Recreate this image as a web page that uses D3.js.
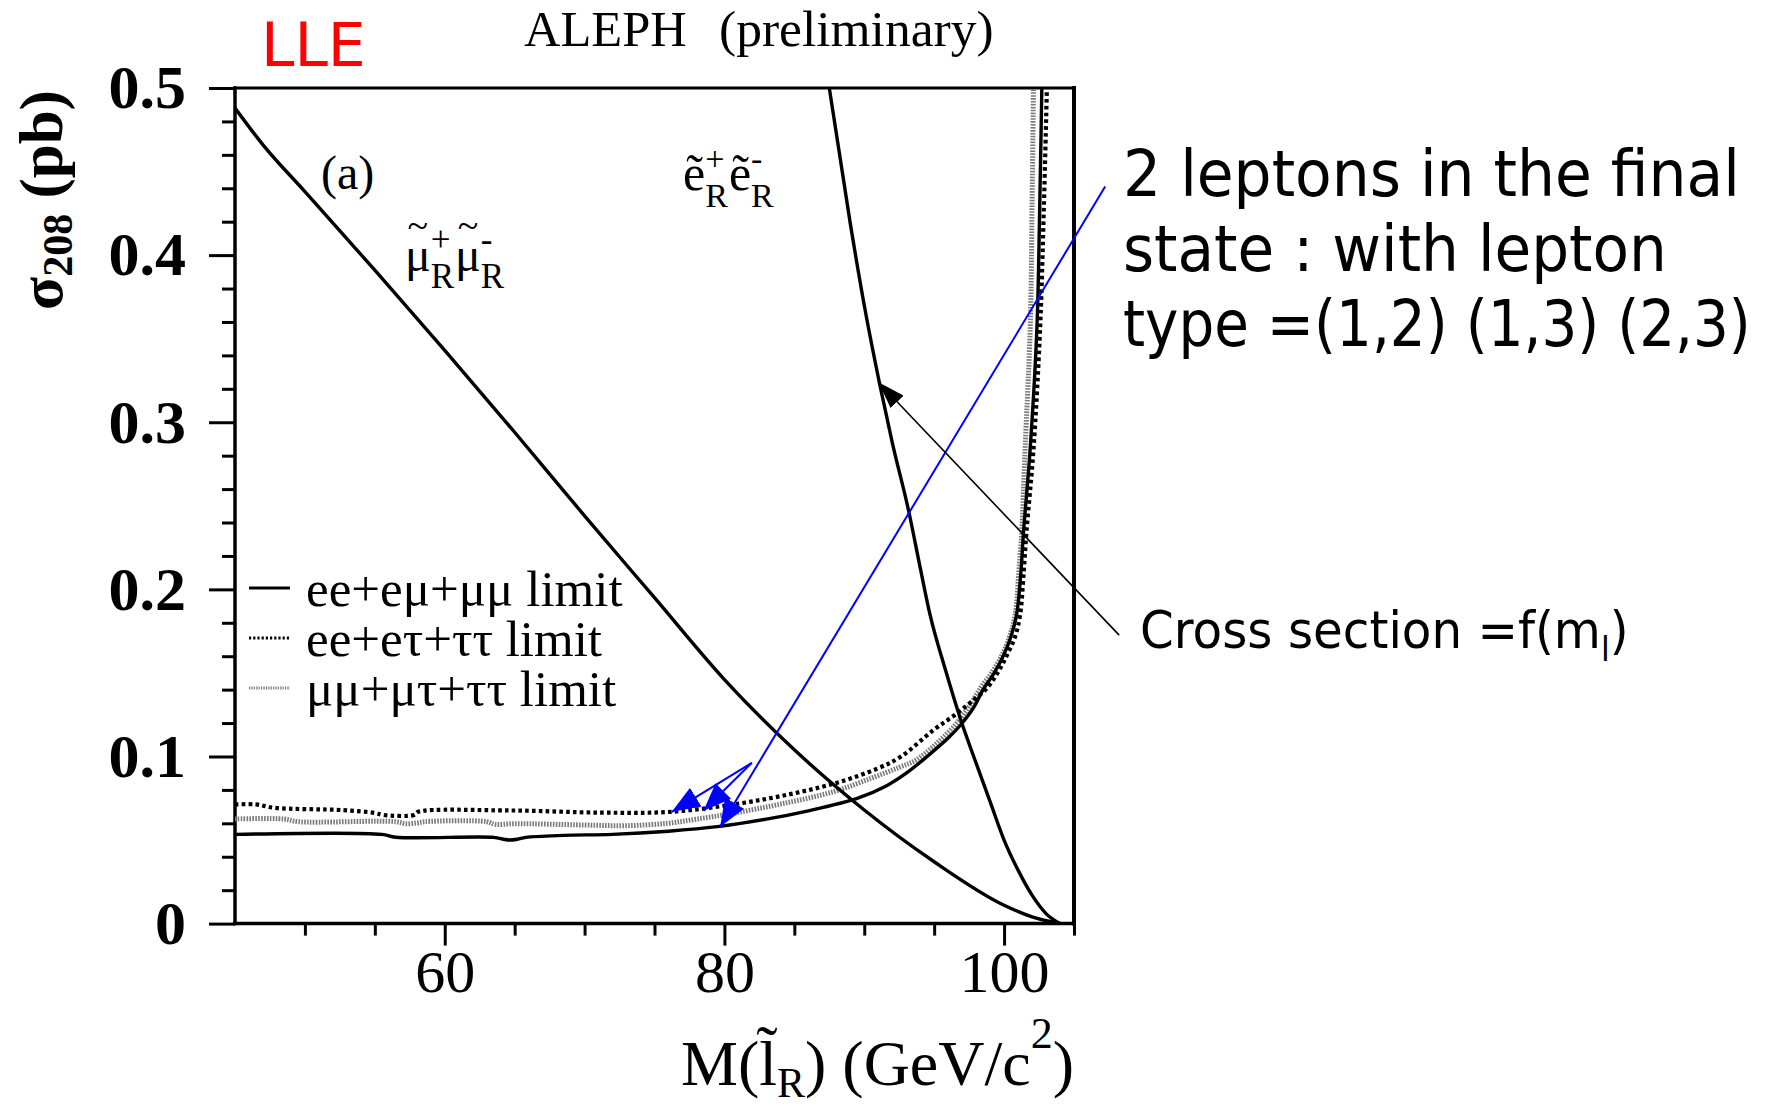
<!DOCTYPE html>
<html>
<head>
<meta charset="utf-8">
<script src="https://cdn.jsdelivr.net/npm/d3@7"></script>
<style>
  html, body { margin: 0; padding: 0; background: #fff; }
  svg { display: block; }
  .serif { font-family: "Liberation Serif", "Times New Roman", serif; }
  .sans { font-family: "DejaVu Sans", "Liberation Sans", sans-serif; }
</style>
</head>
<body>
<svg id="chart" width="1766" height="1106"></svg>
<script>
// ---------- data ----------
// smuon pair production cross section (pb) vs mass (GeV/c^2)
const muMass = [45, 47, 50, 55, 60, 65, 70, 75, 80, 85, 90, 95, 100, 102, 104];
const muXsec = [0.488, 0.466, 0.438, 0.391, 0.343, 0.294, 0.244, 0.195, 0.146, 0.104, 0.068, 0.037, 0.011, 0.004, 0.0];

// selectron pair production cross section (pb) vs mass
const eMass = [87.5, 89, 90, 91.1, 92, 93.2, 94, 94.7, 95.8, 96.9, 98, 99, 100, 101, 102, 103, 104];
const eXsec = [0.500, 0.419, 0.370, 0.323, 0.288, 0.246, 0.213, 0.185, 0.152, 0.122, 0.096, 0.073, 0.050, 0.032, 0.017, 0.006, 0.0];

// 95% CL upper limits, ee+eμ+μμ (solid)
const limEMuMass = [45, 55.5, 56.5, 63.5, 64.2, 64.6, 65.2, 65.8, 68.5, 72, 76, 79.5, 83, 86, 89.5, 91.5, 93, 94.5, 96, 96.9,
                    97.8, 98.5, 99.3, 99.96, 100.5, 100.9, 101.2, 101.39, 101.86, 102.35, 102.55, 102.7];
const limEMuVal  = [.0534, .0534, .0517, .0516, .0505, .0500, .0505, .0516, .0528, .0534, .0553, .0580, .0625, .0675, .0749, .0820, .0900, .1000, .1110, .1190,
                    .1290, .1400, .1500, .1605, .1720, .1851, .2100, .2343, .2834, .3571, .4300, .5000];

// ee+eτ+ττ (dotted)
const limETauMass = [45, 46.5, 47.8, 52.7, 55, 55.6, 57.8, 58.1, 64.6, 71.2, 76.2, 81.1, 85, 88.3, 91, 92.6, 94.95, 96.5, 97.7, 98.77,
                     99.6, 100.2, 100.8, 101.15, 101.4, 101.6, 102.1, 102.58, 102.85, 103.06];
const limETauVal  = [.0713, .0713, .0693, .0679, .0662, .0650, .0650, .0669, .0677, .0664, .0669, .0719, .0780, .0849, .0930, .0998, .1158, .1250, .1330, .1408,
                     .1510, .1605, .1720, .1851, .2100, .2343, .2834, .3571, .4300, .5000];

// μμ+μτ+ττ (grey)
const limMuTauMass = [45, 48.5, 49.5, 56.5, 57.2, 58, 58.6, 63, 63.6, 65, 70, 73, 75.9, 78, 80.6, 84, 87.8, 90.5, 92.5, 93.7,
                      95.2, 96.6, 97.5, 98.3, 99.1, 99.84, 100.4, 100.8, 101.05, 101.26, 101.5, 101.87, 102.0, 102.1];
const limMuTauVal  = [.0626, .0626, .0610, .0610, .0598, .0602, .0610, .0610, .0594, .0598, .0590, .0586, .0600, .0625, .0660, .0715, .0789, .0870, .0935, .0978,
                      .1080, .1198, .1300, .1408, .1500, .1605, .1720, .1851, .2100, .2343, .2834, .3571, .4300, .5000];

// axes
const xMajor = [60, 80, 100];
const xTickLabels = ["60", "80", "100"];
const xMinor = [50, 55, 65, 70, 75, 85, 90, 95, 105];
const yMajor = [0, 0.1, 0.2, 0.3, 0.4, 0.5];
const yTickLabels = ["0", "0.1", "0.2", "0.3", "0.4", "0.5"];
const yMinor = d3.range(0, 0.501, 0.02).filter(v => Math.abs(v * 10 - Math.round(v * 10)) > 1e-6);

// legend
const legendLabels = ["ee+eμ+μμ limit", "ee+eτ+ττ limit", "μμ+μτ+ττ limit"];

// annotation arrows, in (mass, cross section) coordinates
const blueArrows = [
  { from: [107.23, 0.441], to: [79.69, 0.0578] },
  { from: [81.96, 0.0962], to: [76.24, 0.0669] },
  { from: [81.96, 0.0962], to: [78.5, 0.0675] }
];
const blackArrow = { from: [108.23, 0.1726], to: [91.02, 0.3239] };

const noteLines = ["2 leptons in the final", "state : with lepton", "type =(1,2) (1,3) (2,3)"];
const noteWidths = [617, 544, 628];

// ---------- layout ----------
const svg = d3.select("#chart");
const L = 235, R = 1074, T = 88, B = 923.6;
const x = d3.scaleLinear().domain([45, 105]).range([L, R]);
const y = d3.scaleLinear().domain([0, 0.5]).range([B, T]);

const defs = svg.append("defs");
defs.append("clipPath").attr("id", "plotClip")
  .append("rect").attr("x", L).attr("y", T - 1).attr("width", R - L).attr("height", B - T + 1);

function arrowMarker(id, color, len, half) {
  defs.append("marker")
    .attr("id", id)
    .attr("markerUnits", "userSpaceOnUse")
    .attr("viewBox", `0 ${-half} ${len} ${2 * half}`)
    .attr("refX", len).attr("refY", 0)
    .attr("markerWidth", len).attr("markerHeight", 2 * half)
    .attr("orient", "auto")
    .append("path")
    .attr("d", `M0,${-half}L${len},0L0,${half}Z`)
    .attr("fill", color);
}
arrowMarker("arrowBlue", "#0000ff", 28, 11);
arrowMarker("arrowBlack", "#000", 27, 9);

// ---------- axes ----------
const yMinorAxis = d3.axisLeft(y).tickValues(yMinor).tickSize(13).tickFormat("");
const yMajorAxis = d3.axisLeft(y).tickValues(yMajor).tickSize(26).tickPadding(23)
  .tickFormat((d, i) => yTickLabels[i]);
const xMinorAxis = d3.axisBottom(x).tickValues(xMinor).tickSize(12).tickFormat("");
const xMajorAxis = d3.axisBottom(x).tickValues(xMajor).tickSize(22).tickPadding(4)
  .tickFormat((d, i) => xTickLabels[i]);

function styleAxis(g) {
  g.select(".domain").remove();
  g.selectAll(".tick line").attr("stroke", "#000").attr("stroke-width", 3);
}
svg.append("g").attr("transform", `translate(${L},0)`).call(yMinorAxis).call(styleAxis);
const gy = svg.append("g").attr("transform", `translate(${L},0)`).call(yMajorAxis).call(styleAxis);
gy.selectAll(".tick text").attr("class", "serif").attr("font-size", 62).attr("font-weight", "bold").attr("fill", "#000");
svg.append("g").attr("transform", `translate(0,${B})`).call(xMinorAxis).call(styleAxis);
const gx = svg.append("g").attr("transform", `translate(0,${B})`).call(xMajorAxis).call(styleAxis);
gx.selectAll(".tick text").attr("class", "serif").attr("font-size", 60).attr("fill", "#000");

// frame
const frame = svg.append("g").attr("stroke", "#000").attr("stroke-linecap", "square");
frame.append("line").attr("x1", L).attr("x2", R).attr("y1", T).attr("y2", T).attr("stroke-width", 3);
frame.append("line").attr("x1", R).attr("x2", R).attr("y1", T).attr("y2", B).attr("stroke-width", 4);
frame.append("line").attr("x1", L).attr("x2", L).attr("y1", T).attr("y2", B).attr("stroke-width", 3.5);
frame.append("line").attr("x1", L).attr("x2", R).attr("y1", B).attr("y2", B).attr("stroke-width", 3.5);

// ---------- curves ----------
const plot = svg.append("g").attr("clip-path", "url(#plotClip)");
const smooth = d3.line().x(d => x(d[0])).y(d => y(d[1])).curve(d3.curveMonotoneX);
const jagged = d3.line().x(d => x(d[0])).y(d => y(d[1])).curve(d3.curveCatmullRom.alpha(0.5));
const zip = (a, b) => a.map((v, i) => [v, b[i]]);

// limits
plot.append("path").datum(zip(limMuTauMass, limMuTauVal)).attr("d", jagged)
  .attr("fill", "none").attr("stroke", "#7a7a7a").attr("stroke-width", 5).attr("stroke-dasharray", "1.6 1.3");
plot.append("path").datum(zip(limETauMass, limETauVal)).attr("d", jagged)
  .attr("fill", "none").attr("stroke", "#000").attr("stroke-width", 4.2).attr("stroke-dasharray", "3.6 3.2");
plot.append("path").datum(zip(limEMuMass, limEMuVal)).attr("d", jagged)
  .attr("fill", "none").attr("stroke", "#000").attr("stroke-width", 3.4);

// cross sections
plot.append("path").datum(zip(muMass, muXsec)).attr("d", smooth)
  .attr("fill", "none").attr("stroke", "#000").attr("stroke-width", 3.4);
plot.append("path").datum(zip(eMass, eXsec)).attr("d", smooth)
  .attr("fill", "none").attr("stroke", "#000").attr("stroke-width", 3.4);

// ---------- legend ----------
const legendStyles = [
  { stroke: "#000", width: 3, dash: null },
  { stroke: "#000", width: 2.8, dash: "2.2 2" },
  { stroke: "#808080", width: 2.8, dash: "1.3 1.1" }
];
legendLabels.forEach((lab, i) => {
  const yy = 588 + i * 50;
  const s = legendStyles[i];
  const ln = svg.append("line").attr("x1", 249).attr("x2", 290).attr("y1", yy).attr("y2", yy)
    .attr("stroke", s.stroke).attr("stroke-width", s.width);
  if (s.dash) ln.attr("stroke-dasharray", s.dash);
  svg.append("text").attr("class", "serif").attr("x", 306).attr("y", 606 + i * 50)
    .attr("font-size", 51).text(lab);
});

// ---------- plot labels ----------
svg.append("text").attr("class", "serif").attr("x", 321).attr("y", 189).attr("font-size", 48).text("(a)");

// width of a string in a given serif size (used for manual stacking of scripts)
function textWidth(str, size) {
  const t = svg.append("text").attr("class", "serif").attr("font-size", size).text(str);
  const w = t.node().getComputedTextLength();
  t.remove();
  return w;
}

// slepton pair label: letter with tilde, stacked super/subscripts
function sparticle(x0, base, font, subFont, parts, combining) {
  const t = svg.append("text").attr("class", "serif").attr("font-size", font);
  const tw = textWidth("~", 38);
  let xx = x0;
  parts.forEach(p => {
    const bw = textWidth(p.base, font);
    if (combining) {
      t.append("tspan").attr("x", xx).attr("y", base).text(p.base + "\u0303");
    } else {
      t.append("tspan").attr("x", xx).attr("y", base).text(p.base);
      t.append("tspan").attr("x", xx + bw / 2 - tw / 2).attr("y", base - 33).attr("font-size", 38).text("~");
    }
    t.append("tspan").attr("x", xx + bw).attr("y", base + 17).attr("font-size", subFont).text(p.sub);
    t.append("tspan").attr("x", xx + bw).attr("y", base - 20).attr("font-size", subFont).text(p.sup);
    xx += bw + Math.max(textWidth(p.sup, subFont), textWidth(p.sub, subFont)) + 1;
  });
}
sparticle(405, 271, 48, 35, [{ base: "μ", sup: "+", sub: "R" }, { base: "μ", sup: "-", sub: "R" }], false);
sparticle(683, 190, 50, 34, [{ base: "e", sup: "+", sub: "R" }, { base: "e", sup: "-", sub: "R" }], true);

// ---------- titles ----------
svg.append("text").attr("class", "serif").attr("x", 524).attr("y", 46).attr("font-size", 50.5).text("ALEPH");
svg.append("text").attr("class", "serif").attr("x", 719).attr("y", 46).attr("font-size", 51.5).text("(preliminary)");
svg.append("text").attr("class", "sans").attr("x", 261).attr("y", 66).attr("font-size", 60)
  .attr("fill", "#ff0000").text("LLE");

// y axis title
const yt = svg.append("text").attr("class", "serif").attr("font-weight", "bold")
  .attr("transform", "translate(62,310) rotate(-90)").attr("font-size", 61);
yt.append("tspan").text("σ");
yt.append("tspan").attr("font-size", 42).attr("dy", 10).text("208");
yt.append("tspan").attr("dy", -10).text(" (pb)");

// x axis title
const xt = svg.append("text").attr("class", "serif").attr("x", 681).attr("y", 1085).attr("font-size", 64);
xt.append("tspan").text("M(l\u0303");
xt.append("tspan").attr("font-size", 42).attr("dy", 12).text("R");
xt.append("tspan").attr("dy", -12).text(") (GeV/c");
xt.append("tspan").attr("font-size", 44).attr("dy", -37).text("2");
xt.append("tspan").attr("dy", 37).text(")");

// ---------- annotations ----------
blueArrows.forEach(a => {
  svg.append("line")
    .attr("x1", x(a.from[0])).attr("y1", y(a.from[1]))
    .attr("x2", x(a.to[0])).attr("y2", y(a.to[1]))
    .attr("stroke", "#0000ff").attr("stroke-width", 2)
    .attr("marker-end", "url(#arrowBlue)");
});
svg.append("line")
  .attr("x1", x(blackArrow.from[0])).attr("y1", y(blackArrow.from[1]))
  .attr("x2", x(blackArrow.to[0])).attr("y2", y(blackArrow.to[1]))
  .attr("stroke", "#000").attr("stroke-width", 1.6)
  .attr("marker-end", "url(#arrowBlack)");

// note block: lines squeezed horizontally to the measured widths
noteLines.forEach((t, i) => {
  const g = svg.append("g");
  const txt = g.append("text").attr("class", "sans").attr("font-size", 64).text(t);
  const natural = txt.node().getComputedTextLength();
  g.attr("transform", `translate(1123,${196 + i * 75}) scale(${noteWidths[i] / natural},1)`);
});

const cs = svg.append("g").attr("transform", "translate(1140,648) scale(0.93,1)")
  .append("text").attr("class", "sans").attr("font-size", 52);
cs.append("tspan").text("Cross section =f(m");
cs.append("tspan").attr("font-size", 34).attr("dy", 13).text("l");
cs.append("tspan").attr("dy", -13).text(")");
</script>
</body>
</html>
